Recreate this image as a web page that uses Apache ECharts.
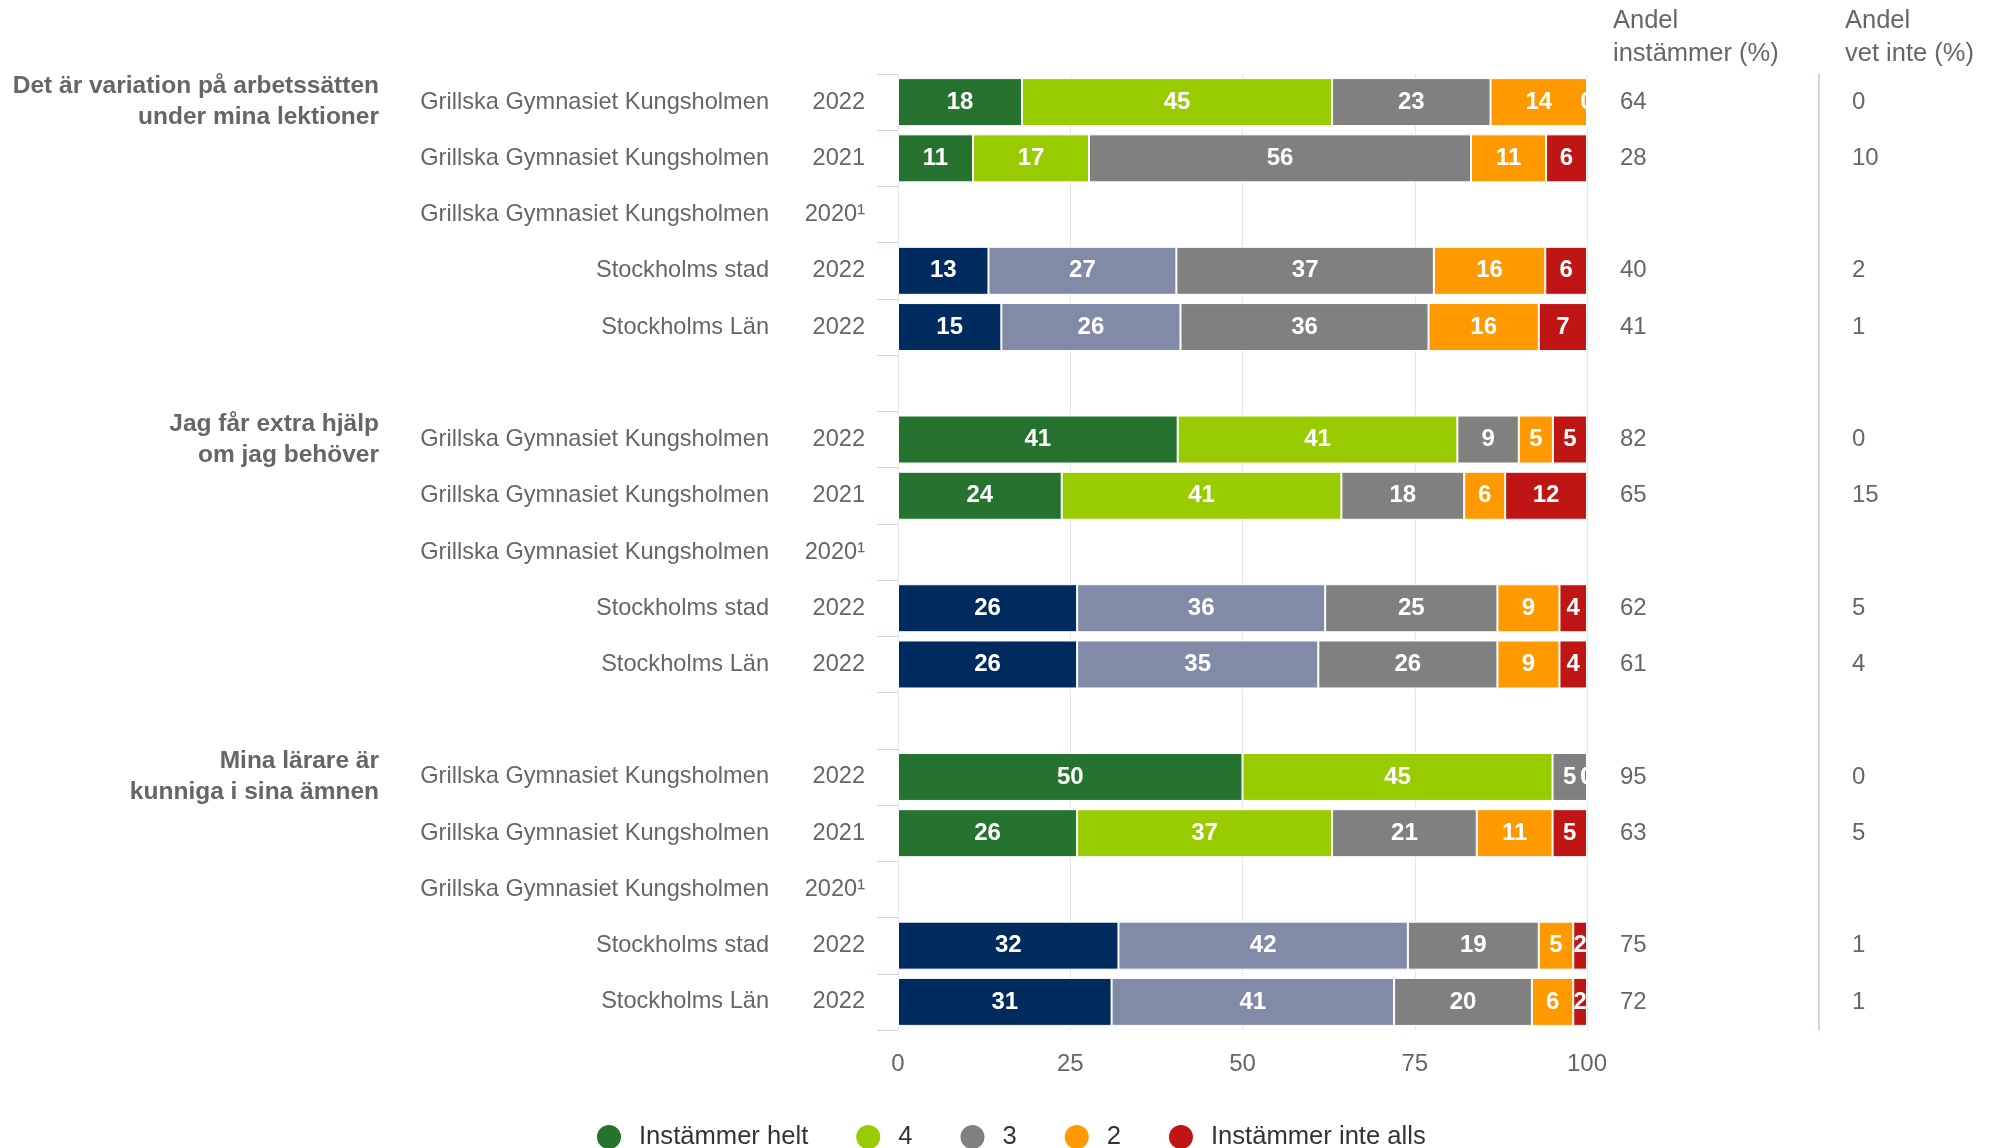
<!DOCTYPE html>
<html>
<head>
<meta charset="utf-8">
<script src="https://cdn.jsdelivr.net/npm/echarts@6/dist/echarts.min.js"></script>
<style>
  html, body { margin: 0; padding: 0; background: #fff; }
  #chart { width: 1994px; height: 1148px; }
</style>
</head>
<body>
<div id="chart"></div>
<script>
var questions = [
  'Det är variation på arbetssätten\nunder mina lektioner',
  'Jag får extra hjälp\nom jag behöver',
  'Mina lärare är\nkunniga i sina ämnen'
];
var units = ['Grillska Gymnasiet Kungsholmen', 'Grillska Gymnasiet Kungsholmen', 'Grillska Gymnasiet Kungsholmen', 'Stockholms stad', 'Stockholms Län'];
var years = ['2022', '2021', '2020¹', '2022', '2022'];
var seriesNames = ['Instämmer helt', '4', '3', '2', 'Instämmer inte alls'];

// 17 rader: 5 per fråga + tom rad mellan frågorna
var helt = [18, 11, null, 13, 15, null, 41, 24, null, 26, 26, null, 50, 26, null, 32, 31];
var fyra = [45, 17, null, 27, 26, null, 41, 41, null, 36, 35, null, 45, 37, null, 42, 41];
var tre  = [23, 56, null, 37, 36, null, 9, 18, null, 25, 26, null, 5, 21, null, 19, 20];
var tva  = [14, 11, null, 16, 16, null, 5, 6, null, 9, 9, null, 0, 11, null, 5, 6];
var inte = [0, 6, null, 6, 7, null, 5, 12, null, 4, 4, null, 0, 5, null, 2, 2];

var andelInstammer = ['64', '28', '', '40', '41', '', '82', '65', '', '62', '61', '', '95', '63', '', '75', '72'];
var andelVetInte   = ['0', '10', '', '2', '1', '', '0', '15', '', '5', '4', '', '0', '5', '', '1', '1'];

var xTicks = [0, 25, 50, 75, 100];

var colors = ['#26722f', '#99cc00', '#808080', '#ff9900', '#bf1515'];
var cityColors = ['#002b5f', '#818ba8'];
var font = 'Liberation Sans, Arial, sans-serif';

// bygg kategorier
var rowLabels = [], groupLabels = [], isCity = [];
questions.forEach(function (q, g) {
  units.forEach(function (u, r) {
    rowLabels.push({ unit: u, year: years[r] });
    groupLabels.push(r === 0 ? q : '');
    isCity.push(r >= 3);
  });
  if (g < questions.length - 1) {
    rowLabels.push(null);
    groupLabels.push('');
    isCity.push(false);
  }
});
var catIdx = rowLabels.map(function (d, i) { return String(i); });

var raw = [helt, fyra, tre, tva, inte];
var totals = helt.map(function (v, i) {
  if (v == null) return null;
  return raw.reduce(function (s, arr) { return s + arr[i]; }, 0);
});

var series = raw.map(function (arr, s) {
  return {
    name: seriesNames[s],
    type: 'bar',
    stack: 'total',
    barWidth: 48,
    itemStyle: { color: colors[s], borderColor: '#fff', borderWidth: 1 },
    label: {
      show: true,
      position: 'inside',
      color: '#fff',
      fontWeight: 'bold',
      fontSize: 24,
      fontFamily: font,
      formatter: function (p) { return raw[s][p.dataIndex]; }
    },
    data: arr.map(function (v, i) {
      if (v == null) return null;
      var item = { value: v / totals[i] * 100 };
      if (s < 2 && isCity[i]) item.itemStyle = { color: cityColors[s] };
      return item;
    })
  };
});

var chart = echarts.init(document.getElementById('chart'));
chart.setOption({
  animation: false,
  textStyle: { fontFamily: font },
  title: [
    { text: 'Andel\ninstämmer (%)', left: 1613, top: 4, padding: 0,
      textStyle: { fontSize: 25.5, fontWeight: 'normal', color: '#666', lineHeight: 33, fontFamily: font } },
    { text: 'Andel\nvet inte (%)', left: 1845, top: 4, padding: 0,
      textStyle: { fontSize: 25.5, fontWeight: 'normal', color: '#666', lineHeight: 33, fontFamily: font } }
  ],
  legend: {
    data: seriesNames,
    icon: 'circle',
    itemWidth: 26,
    itemHeight: 26,
    itemGap: 46,
    padding: 0,
    left: 595,
    top: 1123,
    textStyle: { fontSize: 25.6, color: '#333', fontFamily: font, padding: [0, 0, 0, 12] }
  },
  grid: { left: 898, right: 407, top: 74, bottom: 118 },
  xAxis: {
    type: 'value',
    min: xTicks[0],
    max: xTicks[xTicks.length - 1],
    interval: 25,
    axisLine: { show: false },
    axisTick: { show: false },
    axisLabel: { fontSize: 24, color: '#666', margin: 22, fontFamily: font },
    splitLine: { lineStyle: { color: '#e6e6e6', width: 1 } }
  },
  yAxis: [
    {
      type: 'category',
      inverse: true,
      data: catIdx,
      axisLine: { lineStyle: { color: '#e6e6e6' } },
      axisTick: { show: true, length: 21, lineStyle: { color: '#ccd6eb' } },
      axisLabel: {
        interval: 0,
        margin: 33,
        formatter: function (v, i) {
          var d = rowLabels[i];
          if (!d) return '';
          return '{c|' + d.unit + '}{y|' + d.year + '}';
        },
        rich: {
          c: { fontSize: 23.6, color: '#666', fontFamily: font },
          y: { fontSize: 23.6, color: '#666', fontFamily: font, width: 96, align: 'right' }
        }
      }
    },
    {
      type: 'category',
      inverse: true,
      position: 'left',
      offset: 519,
      data: catIdx,
      axisLine: { show: false },
      axisTick: { show: false },
      axisLabel: {
        interval: 0,
        margin: 0,
        fontSize: 24.5,
        fontWeight: 'bold',
        lineHeight: 31,
        color: '#666',
        align: 'right',
        fontFamily: font,
        formatter: function (v, i) { return groupLabels[i]; }
      }
    },
    {
      type: 'category',
      inverse: true,
      position: 'right',
      offset: 0,
      data: catIdx,
      axisLine: { show: false },
      axisTick: { show: false },
      axisLabel: {
        interval: 0,
        margin: 33,
        fontSize: 24,
        color: '#666',
        align: 'left',
        fontFamily: font,
        formatter: function (v, i) { return andelInstammer[i]; }
      }
    },
    {
      type: 'category',
      inverse: true,
      position: 'right',
      offset: 232,
      data: catIdx,
      axisLine: { show: true, lineStyle: { color: '#ccd6eb', width: 2 } },
      axisTick: { show: false },
      axisLabel: {
        interval: 0,
        margin: 33,
        fontSize: 24,
        color: '#666',
        align: 'left',
        fontFamily: font,
        formatter: function (v, i) { return andelVetInte[i]; }
      }
    }
  ],
  series: series
});
</script>
</body>
</html>
